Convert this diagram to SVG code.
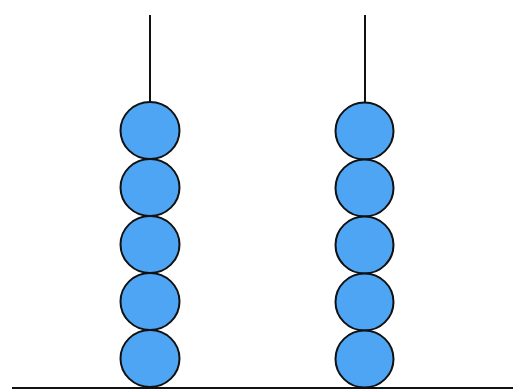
<svg xmlns="http://www.w3.org/2000/svg" width="513" height="392" viewBox="0 0 513 392">
<style>
.rod{stroke:#111;stroke-width:2;fill:none}
.bead{fill:#4ea5f3;stroke:#111;stroke-width:2}
</style>
<rect width="513" height="392" fill="#fff"/>
<g id="ground"><line class="rod" x1="12" y1="388" x2="513" y2="388"/></g>
<g id="rod-left">
<line class="rod" x1="150" y1="15" x2="150" y2="102"/>
<ellipse class="bead" cx="150" cy="130.5" rx="29.5" ry="28.5"/>
<ellipse class="bead" cx="150" cy="187.5" rx="29.5" ry="28.5"/>
<ellipse class="bead" cx="150" cy="244.5" rx="29.5" ry="28.5"/>
<ellipse class="bead" cx="150" cy="301.5" rx="29.5" ry="28.5"/>
<ellipse class="bead" cx="150" cy="358.5" rx="29.5" ry="28.5"/>
</g>
<g id="rod-right">
<line class="rod" x1="365" y1="15" x2="365" y2="103"/>
<ellipse class="bead" cx="364.5" cy="131" rx="29" ry="28.5"/>
<ellipse class="bead" cx="364.5" cy="188" rx="29" ry="28.5"/>
<ellipse class="bead" cx="364.5" cy="245" rx="29" ry="28.5"/>
<ellipse class="bead" cx="364.5" cy="302" rx="29" ry="28.5"/>
<ellipse class="bead" cx="364.5" cy="359" rx="29" ry="28.5"/>
</g>
</svg>
